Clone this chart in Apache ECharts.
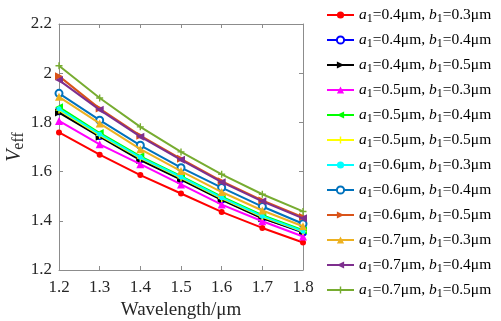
<!DOCTYPE html>
<html><head><meta charset="utf-8">
<script src="https://cdn.jsdelivr.net/npm/echarts@6/dist/echarts.min.js"></script>
<style>html,body{margin:0;padding:0;background:#fff}#c{width:501px;height:321px}</style>
</head><body><div id="c"></div>
<script>
const wavelengths = ['1.2','1.3','1.4','1.5','1.6','1.7','1.8'];
const yTicks = [1.2, 1.4, 1.6, 1.8, 2.0, 2.2];
const a1 = ['0.4','0.4','0.4','0.5','0.5','0.5','0.6','0.6','0.6','0.7','0.7','0.7'];
const b1 = ['0.3','0.4','0.5','0.3','0.4','0.5','0.3','0.4','0.5','0.3','0.4','0.5'];
const s_a04_b03 = [1.759, 1.669, 1.586, 1.511, 1.436, 1.371, 1.312];
const s_a04_b04 = [1.845, 1.745, 1.650, 1.570, 1.487, 1.412, 1.352];
const s_a04_b05 = [1.840, 1.742, 1.647, 1.567, 1.485, 1.410, 1.355];
const s_a05_b03 = [1.806, 1.711, 1.630, 1.548, 1.466, 1.398, 1.336];
const s_a05_b04 = [1.862, 1.757, 1.662, 1.582, 1.498, 1.423, 1.362];
const s_a05_b05 = [1.850, 1.748, 1.655, 1.575, 1.491, 1.416, 1.356];
const s_a06_b03 = [1.855, 1.752, 1.658, 1.578, 1.494, 1.419, 1.358];
const s_a06_b04 = [1.918, 1.809, 1.707, 1.616, 1.535, 1.458, 1.388];
const s_a06_b05 = [1.988, 1.856, 1.746, 1.652, 1.561, 1.483, 1.415];
const s_a07_b03 = [1.904, 1.796, 1.691, 1.602, 1.517, 1.442, 1.378];
const s_a07_b04 = [1.972, 1.851, 1.742, 1.648, 1.557, 1.479, 1.410];
const s_a07_b05 = [2.030, 1.899, 1.782, 1.680, 1.589, 1.508, 1.438];
const seriesValues = [s_a04_b03,s_a04_b04,s_a04_b05,s_a05_b03,s_a05_b04,s_a05_b05,s_a06_b03,s_a06_b04,s_a06_b05,s_a07_b03,s_a07_b04,s_a07_b05];

const colors = ['#FF0000','#0000FF','#000000','#FF00FF','#00FF00','#FFFF00','#00FFFF','#0072BD','#D95319','#EDB120','#7E2F8E','#77AC30'];
const plus = 'path://M4,0L6,0L6,4L10,4L10,6L6,6L6,10L4,10L4,6L0,6L0,4L4,4Z';
const rightTri = 'path://M0,0L10,5L0,10Z';
const leftTri = 'path://M10,0L0,5L10,10Z';
const markers = [
  {s:'circle', size:6},
  {s:'emptyCircle', size:6},
  {s:rightTri, size:8},
  {s:'triangle', size:8},
  {s:leftTri, size:8},
  {s:plus, size:7},
  {s:'circle', size:5},
  {s:'emptyCircle', size:7},
  {s:rightTri, size:8},
  {s:'triangle', size:8},
  {s:leftTri, size:8},
  {s:plus, size:7}
];
const names = a1.map((a,i)=>'{i|a}{s|1}=' + a + 'μm, {i|b}{s|1}=' + b1[i] + 'μm');
const F = '"Liberation Serif","Times New Roman",serif';

const series = seriesValues.map((vals,i)=>({
  name: names[i],
  type: 'line',
  data: vals,
  color: colors[i],
  symbol: markers[i].s,
  symbolSize: markers[i].size,
  showAllSymbol: true,
  lineStyle: {width: 2, color: colors[i]},
  itemStyle: markers[i].s === 'emptyCircle' ? {color: colors[i], borderColor: colors[i], borderWidth: 1.8} : {color: colors[i]},
  emphasis: {disabled: true},
  animation: false,
  z: 2 + i
}));

const chart = echarts.init(document.getElementById('c'));
const axisCol = '#8c8c8c';
const fmtY = v => String(+(+v).toFixed(1));
chart.setOption({
  animation: false,
  backgroundColor: '#fff',
  textStyle: {fontFamily: F},
  grid: {left: 59, right: 198, top: 24, bottom: 51, containLabel: false, outerBoundsMode: 'none'},
  xAxis: [{
    type: 'category', data: wavelengths, boundaryGap: false,
    axisLine: {lineStyle: {color: axisCol, width: 1}},
    axisTick: {inside: true, length: 4, lineStyle: {color: axisCol}},
    axisLabel: {color: '#262626', fontSize: 17, fontFamily: F, margin: 9},
    splitLine: {show: false},
    name: 'Wavelength/μm', nameLocation: 'middle', nameGap: 25,
    nameTextStyle: {color: '#262626', fontSize: 19, fontFamily: F}
  },{
    type: 'category', data: wavelengths, boundaryGap: false, position: 'top',
    axisLine: {lineStyle: {color: axisCol, width: 1}},
    axisTick: {inside: true, length: 4, lineStyle: {color: axisCol}},
    axisLabel: {show: false}, splitLine: {show: false}
  }],
  yAxis: [{
    type: 'value', min: 1.2, max: 2.2, interval: 0.2,
    axisLine: {show: true, lineStyle: {color: axisCol, width: 1}},
    axisTick: {show: true, inside: true, length: 4, lineStyle: {color: axisCol}},
    axisLabel: {color: '#262626', fontSize: 17, fontFamily: F, margin: 7, formatter: fmtY},
    splitLine: {show: false},
    name: '{v|V}{e|eff}', nameLocation: 'middle', nameGap: 21, nameRotate: 90,
    nameTextStyle: {color: '#262626', fontFamily: F, rich: {
      v: {fontSize: 20, fontStyle: 'italic', fontFamily: F, color: '#262626'},
      e: {fontSize: 16, fontFamily: F, color: '#262626', verticalAlign: 'bottom', padding: [8,0,0,0]}
    }}
  },{
    type: 'value', min: 1.2, max: 2.2, interval: 0.2, position: 'right',
    axisLine: {show: true, lineStyle: {color: axisCol, width: 1}},
    axisTick: {show: true, inside: true, length: 4, lineStyle: {color: axisCol}},
    axisLabel: {show: false}, splitLine: {show: false}
  }],
  legend: {
    orient: 'vertical', left: 321, top: 0,
    itemWidth: 27, itemHeight: 9, itemGap: 5,
    data: names,
    textStyle: {fontFamily: F, fontSize: 15.5, color: '#000', lineHeight: 20, rich: {
      i: {fontStyle: 'italic', fontSize: 15.5, fontFamily: F, color: '#000'},
      s: {fontSize: 12, fontFamily: F, color: '#000', verticalAlign: 'bottom', padding: [7,0,0,0]}
    }}
  },
  series: series
});
</script></body></html>
